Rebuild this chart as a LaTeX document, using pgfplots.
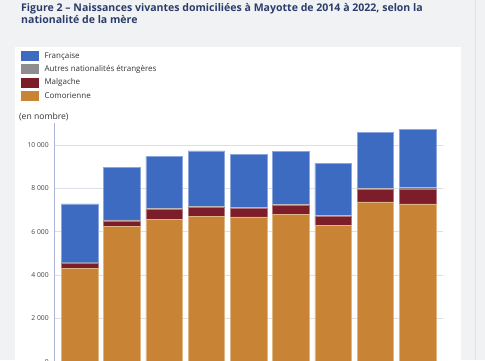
\documentclass[border=0pt]{standalone}
\usepackage{pgfplots}
\pgfplotsset{compat=1.18}
\usepackage{fontspec}
\setmainfont{Open Sans}
\definecolor{bg}{HTML}{F1F2F4}
\definecolor{edge}{HTML}{E2E3E7}
\definecolor{titleC}{HTML}{2C3D6B}
\definecolor{textC}{HTML}{333333}
\definecolor{tickC}{HTML}{444444}
\definecolor{axisC}{HTML}{AEB3D6}
\definecolor{gridC}{HTML}{DDDFE6}
\definecolor{fra}{HTML}{3D6BC2}
\definecolor{aut}{HTML}{8E8E8E}
\definecolor{mal}{HTML}{7E1D2A}
\definecolor{com}{HTML}{C88434}
\pgfplotstableread{
x com mal aut fra
0 4300 230 40 2710
1 6250 250 50 2410
2 6560 460 50 2400
3 6720 410 50 2550
4 6680 390 40 2470
5 6790 420 50 2460
6 6280 420 60 2400
7 7380 560 60 2580
8 7280 700 60 2690
}\births
\begin{document}
\begin{tikzpicture}[x=1pt,y=1pt]
\useasboundingbox (0,0) rectangle (485,-360);
\clip (0,0) rectangle (485,-360);
\fill[bg] (0,0) rectangle (485,-360);
\fill[white] (15,-47) rectangle (461,-360);
\draw[edge, line width=0.8pt] (475,0) -- (475,-360);
\node[anchor=base west, inner sep=0pt, align=left, text=titleC,
      font=\fontsize{10.55}{10.6}\selectfont\bfseries] at (21,-23.3)
  {Figure 2 – Naissances vivantes domiciliées à Mayotte de 2014 à 2022, selon la\\nationalité de la mère};
\node[anchor=west, inner sep=0pt, text=textC, font=\fontsize{8.6}{9}\selectfont] at (19,-116.7) {(en nombre)};
\begin{axis}[
  at={(54.3pt,-361.7pt)}, anchor=south west,
  scale only axis, width=388.7pt, height=238.4pt,
  ybar stacked, bar width=36.5pt,
  xmin=-0.6, xmax=8.6, ymin=0, ymax=11000,
  xtick={0,...,8}, xticklabels={},
  ytick={0,2000,4000,6000,8000,10000},
  scaled y ticks=false,
  axis x line*=bottom, axis y line*=left,
  axis line style={draw=axisC, line width=0.8pt},
  x axis line style={draw=none},
  major tick length=0pt,
  ymajorgrids, grid style={draw=gridC, line width=0.7pt},
  y tick label style={font=\fontsize{6.8}{7}\selectfont, text=tickC, xshift=-2pt},
  /pgf/number format/.cd, 1000 sep={\ }, assume math mode=true, /pgfplots/.cd,
  reverse legend, legend cell align=left,
  legend image code/.code={\fill[#1,draw=none] (0pt,-5pt) rectangle (18pt,5pt);},
  legend style={draw=none, fill=none, inner sep=0pt, outer sep=0pt,
    at={(axis description cs:0,1)}, anchor=north west, xshift=-33.3pt, yshift=72.3pt,
    font=\fontsize{8.0}{9}\selectfont, text=textC, row sep=3.3pt, column sep=5.5pt,
    nodes={inner sep=0pt}},
]
\addplot+[fill=com, draw=com!60!white, line width=0.3pt] table[x=x,y=com]{\births};
\addlegendentry{Comorienne}
\addplot+[fill=mal, draw=mal!60!white, line width=0.3pt] table[x=x,y=mal]{\births};
\addlegendentry{Malgache}
\addplot+[fill=aut, draw=aut!60!white, line width=0.3pt] table[x=x,y=aut]{\births};
\addlegendentry{Autres nationalités étrangères}
\addplot+[fill=fra, draw=fra!60!white, line width=0.3pt] table[x=x,y=fra]{\births};
\addlegendentry{Française}
\end{axis}
\end{tikzpicture}
\end{document}
